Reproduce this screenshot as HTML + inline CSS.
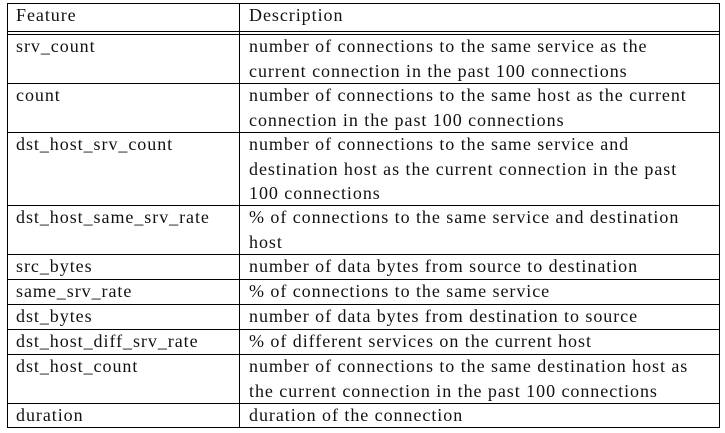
<!DOCTYPE html>
<html><head><meta charset="utf-8"><style>
body{margin:0;width:725px;height:433px;background:#fff;position:relative;overflow:hidden;font-family:"Liberation Serif",serif;font-size:18px;letter-spacing:0.95px;color:#111}
.h{position:absolute;left:7px;width:713px;height:1px;background:#000}
.v{position:absolute;top:3px;width:1px;height:425px;background:#000}
.t{position:absolute;line-height:24.5px;white-space:nowrap}
</style></head><body>
<div>
<div class="h" style="top:3px"></div>
<div class="h" style="top:31px"></div>
<div class="h" style="top:34px"></div>
<div class="h" style="top:83px"></div>
<div class="h" style="top:132px"></div>
<div class="h" style="top:205px"></div>
<div class="h" style="top:254px"></div>
<div class="h" style="top:279px"></div>
<div class="h" style="top:304px"></div>
<div class="h" style="top:329px"></div>
<div class="h" style="top:354px"></div>
<div class="h" style="top:403px"></div>
<div class="h" style="top:427px"></div>
<div class="v" style="left:7px"></div>
<div class="v" style="left:239px"></div>
<div class="v" style="left:719px"></div>

<div class="t" style="left:16px;top:3px">Feature</div>
<div class="t" style="left:249px;top:3px">Description</div>

<div class="t" style="left:16px;top:34px">srv_count</div>
<div class="t" style="left:249px;top:34px">number of connections to the same service as the<br>current connection in the past 100 connections</div>

<div class="t" style="left:16px;top:83px">count</div>
<div class="t" style="left:249px;top:83px">number of connections to the same host as the current<br>connection in the past 100 connections</div>

<div class="t" style="left:16px;top:132px">dst_host_srv_count</div>
<div class="t" style="left:249px;top:132px">number of connections to the same service and<br>destination host as the current connection in the past<br>100 connections</div>

<div class="t" style="left:16px;top:205px">dst_host_same_srv_rate</div>
<div class="t" style="left:249px;top:205px">% of connections to the same service and destination<br>host</div>

<div class="t" style="left:16px;top:254px">src_bytes</div>
<div class="t" style="left:249px;top:254px">number of data bytes from source to destination</div>

<div class="t" style="left:16px;top:279px">same_srv_rate</div>
<div class="t" style="left:249px;top:279px">% of connections to the same service</div>

<div class="t" style="left:16px;top:304px">dst_bytes</div>
<div class="t" style="left:249px;top:304px">number of data bytes from destination to source</div>

<div class="t" style="left:16px;top:329px">dst_host_diff_srv_rate</div>
<div class="t" style="left:249px;top:329px">% of different services on the current host</div>

<div class="t" style="left:16px;top:354px">dst_host_count</div>
<div class="t" style="left:249px;top:354px">number of connections to the same destination host as<br>the current connection in the past 100 connections</div>

<div class="t" style="left:16px;top:403px">duration</div>
<div class="t" style="left:249px;top:403px">duration of the connection</div>
</div>
</body></html>
